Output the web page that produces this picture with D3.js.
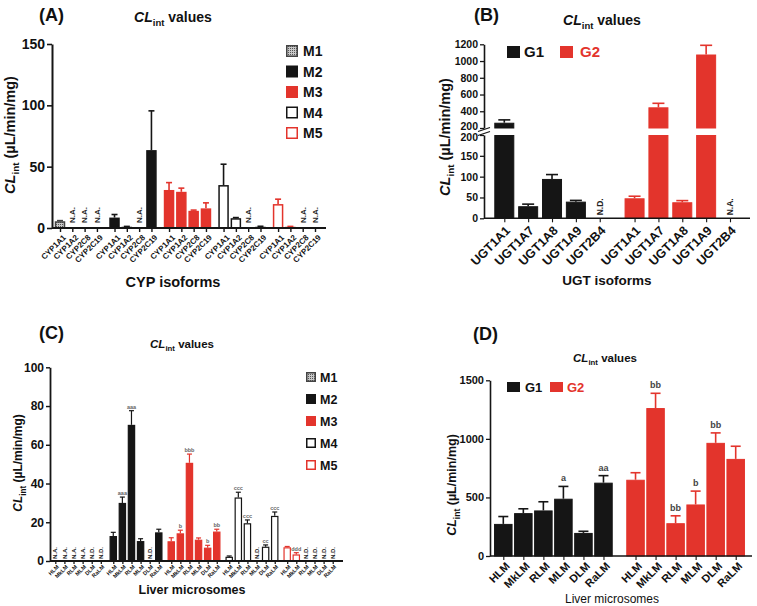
<!DOCTYPE html>
<html><head><meta charset="utf-8">
<script src="https://cdn.jsdelivr.net/npm/d3@7"></script>
<style>body{margin:0;background:#fff}svg{display:block;font-family:"Liberation Sans",Arial,sans-serif}</style>
</head><body><svg id="c" width="757" height="606"></svg>
<script>
// ---------- DATA ----------
// Panel A: CYP isoforms
const cypIsoforms = ["CYP1A1","CYP1A2","CYP2C8","CYP2C19"];
const cypM1 = [5.5, null, null, null];
const cypM1Err = [6, null, null, null];
const cypM1Note = ["", "N.A.", "N.A.", "N.A."];
const cypM2 = [8.5, 1, null, 63.5];
const cypM2Err = [11, 1.3, null, 95.5];
const cypM2Note = ["", "", "N.A.", ""];
const cypM3 = [31, 29.5, 14, 16];
const cypM3Err = [37, 32.5, 14.6, 20.5];
const cypM4 = [35, 8, null, 1];
const cypM4Err = [52, 8.5, null, 1.4];
const cypM4Note = ["", "", "N.A.", ""];
const cypM5 = [19.5, 1, null, null];
const cypM5Err = [23.5, 1.3, null, null];
const cypM5Note = ["", "", "N.A.", "N.A."];
const cypYTicks = [0, 50, 100, 150];

// Panel B: UGT isoforms
const ugtIsoforms = ["UGT1A1","UGT1A7","UGT1A8","UGT1A9","UGT2B4"];
const ugtG1 = [263, 29, 94.5, 40, null];
const ugtG1Err = [297, 34, 105, 43, null];
const ugtG1Note = ["", "", "", "", "N.D."];
const ugtG2 = [48, 447, 38.5, 1078, null];
const ugtG2Err = [53, 495, 42.5, 1188, null];
const ugtG2Note = ["", "", "", "", "N.A."];
const ugtLowTicks = [0, 50, 100, 150, 200];
const ugtHighTicks = [200, 400, 600, 800, 1000, 1200];

// Panel C: liver microsomes, metabolites
const microsomes = ["HLM","MkLM","RLM","MLM","DLM","RaLM"];
const lmM1 = [null, null, null, null, null, null];
const lmM1Note = ["N.A.","N.A.","N.A.","N.A.","N.D.","N.D."];
const lmM2 = [12.9, 30, 70.3, 10.3, null, 14.8];
const lmM2Err = [14.8, 33, 77.6, 11.5, null, 16.4];
const lmM2Note = ["", "", "", "", "N.D.", ""];
const lmM2Sig = ["", "aaa", "aaa", "", "", ""];
const lmM3 = [10.2, 14.3, 50.7, 11, 6.9, 15.2];
const lmM3Err = [12, 15.9, 55.2, 11.9, 8.1, 16.4];
const lmM3Sig = ["", "b", "bbb", "", "b", "bb"];
const lmM4 = [2.2, 32.8, 19.5, null, 7.4, 23.3];
const lmM4Err = [2.6, 35.5, 21.2, null, 8.3, 25.3];
const lmM4Note = ["", "", "", "N.D.", "", ""];
const lmM4Sig = ["", "ccc", "ccc", "", "cc", "ccc"];
const lmM5 = [7.1, 3.4, null, null, null, null];
const lmM5Err = [7.5, 4.3, null, null, null, null];
const lmM5Note = ["", "", "N.D.", "N.D.", "N.D.", "N.D."];
const lmM5Sig = ["", "ddd", "", "", "", ""];
const lmCTicks = [0, 20, 40, 60, 80, 100];

// Panel D: liver microsomes, G1 / G2
const lmG1 = [274, 366, 389, 489, 197, 626];
const lmG1Err = [337, 403, 463, 594, 211, 686];
const lmG1Sig = ["", "", "", "a", "", "aa"];
const lmG2 = [651, 1263, 280, 440, 966, 829];
const lmG2Err = [711, 1389, 343, 554, 1051, 937];
const lmG2Sig = ["", "bb", "bb", "b", "bb", ""];
const lmDTicks = [0, 500, 1000, 1500];

const metNames = ["M1","M2","M3","M4","M5"];
const grpNames = ["G1","G2"];

// ---------- STYLE ----------
const RED = "#e3342c", BLK = "#151515";
const STYLES = {
  M1:{fill:"url(#dots)", stroke:"#444"},
  M2:{fill:BLK, stroke:BLK},
  M3:{fill:RED, stroke:RED},
  M4:{fill:"#fff", stroke:BLK},
  M5:{fill:"#fff", stroke:RED},
  G1:{fill:BLK, stroke:BLK},
  G2:{fill:RED, stroke:RED}
};

const svg = d3.select("#c");
const defs = svg.append("defs");
const pat = defs.append("pattern").attr("id","dots").attr("patternUnits","userSpaceOnUse").attr("width",2).attr("height",2);
pat.append("rect").attr("width",2).attr("height",2).attr("fill","#c8c8c8");
pat.append("rect").attr("width",1).attr("height",1).attr("fill","#555");

function addCL(t, size, suffix, weight){
  t.append("tspan").attr("font-style","italic").attr("font-weight","bold").text("CL");
  t.append("tspan").attr("font-size",size*0.68).attr("dy",size*0.3).attr("font-weight","bold").text("int");
  t.append("tspan").attr("dy",-size*0.3).attr("font-weight",weight||"bold").text(suffix);
}
function chartTitle(x,y,size){
  const t = svg.append("text").attr("x",x).attr("y",y).attr("font-size",size).attr("text-anchor","middle").attr("fill","#111");
  addCL(t,size," values");
}
function yLabel(x,y,size){
  const t = svg.append("text").attr("transform",`translate(${x},${y}) rotate(-90)`).attr("font-size",size).attr("text-anchor","middle").attr("fill","#111");
  addCL(t,size," (µL/min/mg)");
}
function plainText(x,y,size,str,opt){
  opt = opt||{};
  return svg.append("text").attr("x",x).attr("y",y).attr("font-size",size)
    .attr("font-weight",opt.weight||"bold").attr("text-anchor",opt.anchor||"start")
    .attr("fill",opt.fill||"#111").text(str);
}

function drawPanel(c){
  const n = c.items.length;
  const lastSlot = (c.groups.length-1)*(n+c.gap) + n-1;
  const x = d3.scaleLinear().domain([0,lastSlot]).range([c.c0,c.c1]);
  const slots = [];
  c.groups.forEach((gr,gi)=>c.items.forEach((it,j)=>slots.push({
    slot: gi*(n+c.gap)+j, label: it, v: gr.values[j], e: gr.errs ? gr.errs[j] : null,
    note: gr.notes ? gr.notes[j] : "", sig: gr.sigs ? gr.sigs[j] : "", st: STYLES[gr.name]
  })));
  const g = svg.append("g");
  const sw = c.barStroke;
  slots.filter(s=>s.v!=null).forEach(s=>{
    const segs = c.segments ? c.segments(s.v) : [[c.y(s.v), c.y(0)]];
    segs.forEach(([t,b])=>{
      g.append("rect").attr("x",x(s.slot)-c.bw/2+sw/2).attr("width",c.bw-sw)
        .attr("y",t+sw/2).attr("height",Math.max(0,b-t-sw/2))
        .attr("fill",s.st.fill).attr("stroke",s.st.stroke).attr("stroke-width",sw);
    });
    if(s.e!=null){
      const cx = x(s.slot);
      g.append("line").attr("x1",cx).attr("x2",cx).attr("y1",c.y(s.v)).attr("y2",c.y(s.e))
        .attr("stroke",s.st.stroke).attr("stroke-width",c.errW);
      g.append("line").attr("x1",cx-c.cap/2).attr("x2",cx+c.cap/2).attr("y1",c.y(s.e)).attr("y2",c.y(s.e))
        .attr("stroke",s.st.stroke).attr("stroke-width",c.errW);
    }
  });
  slots.filter(s=>s.note).forEach(s=>{
    g.append("text").attr("transform",`translate(${x(s.slot)+c.noteSize*0.36},${c.y0-c.noteOff}) rotate(-90)`)
      .attr("font-size",c.noteSize).attr("font-weight","bold").attr("fill","#222").text(s.note);
  });
  slots.filter(s=>s.sig).forEach(s=>{
    g.append("text").attr("x",x(s.slot)).attr("y",c.y(s.e)-c.sigOff).attr("text-anchor","middle")
      .attr("font-size",c.sigSize).attr("font-weight","bold").attr("fill",c.sigFill).text(s.sig);
  });
  c.yAxes.forEach(ax=>{
    const a = g.append("g").attr("transform",`translate(${c.axisX},0)`)
      .call(d3.axisLeft(ax.scale).tickValues(ax.ticks).tickSize(c.tickLen).tickSizeOuter(0).tickPadding(c.tickPad).tickFormat(d3.format("d")));
    a.select(".domain").attr("stroke",BLK).attr("stroke-width",c.axisW);
    a.selectAll(".tick line").attr("stroke",BLK).attr("stroke-width",c.axisW*0.8);
    a.selectAll(".tick text").attr("font-size",c.yFont).attr("font-weight","bold").attr("fill","#111")
      .attr("font-family","'Liberation Sans',Arial,sans-serif");
    if(ax.shift) a.selectAll(".tick text").filter(d=>d===ax.shift[0]).attr("dy", ax.shift[1]);
  });
  const xa = g.append("g").attr("transform",`translate(0,${c.y0})`)
    .call(d3.axisBottom(x).tickValues(slots.map(s=>s.slot)).tickSize(c.xTickLen).tickFormat((d,i)=>slots[i].label));
  xa.select(".domain").remove();
  xa.append("line").attr("x1",c.axisX).attr("x2",c.xEnd).attr("stroke",BLK).attr("stroke-width",c.axisW);
  xa.selectAll(".tick line").attr("stroke",BLK).attr("stroke-width",c.axisW*0.7);
  xa.selectAll(".tick text").attr("font-size",c.xFont).attr("font-weight","bold").attr("fill","#111")
    .attr("font-family","'Liberation Sans',Arial,sans-serif")
    .attr("text-anchor","end").attr("x",0).attr("y",0).attr("dy","0.35em")
    .attr("transform",`translate(${c.xLab[0]},${c.xLab[1]}) rotate(-45)`);
  return g;
}

function vLegend(names,x,y0,step,w,h,lx,font){
  names.forEach((nm,i)=>{
    const cy = y0+i*step;
    const st = STYLES[nm];
    svg.append("rect").attr("x",x+0.75).attr("y",cy-h/2+0.75).attr("width",w-1.5).attr("height",h-1.5)
      .attr("fill",st.fill).attr("stroke",st.stroke).attr("stroke-width",1.5);
    plainText(lx,cy,font,nm).attr("dy","0.36em");
  });
}
function hLegend(names,xs,lxs,cy,w,h,font){
  names.forEach((nm,i)=>{
    const st = STYLES[nm];
    svg.append("rect").attr("x",xs[i]).attr("y",cy-h/2).attr("width",w).attr("height",h).attr("fill",st.fill);
    plainText(lxs[i],cy,font,nm,{fill: nm==="G2"?RED:"#111"}).attr("dy","0.36em");
  });
}

// ---------- PANEL A ----------
const yA = d3.scaleLinear().domain([0,150]).range([228,44]);
drawPanel({
  items: cypIsoforms,
  groups: [
    {name:"M1", values:cypM1, errs:cypM1Err, notes:cypM1Note},
    {name:"M2", values:cypM2, errs:cypM2Err, notes:cypM2Note},
    {name:"M3", values:cypM3, errs:cypM3Err},
    {name:"M4", values:cypM4, errs:cypM4Err, notes:cypM4Note},
    {name:"M5", values:cypM5, errs:cypM5Err, notes:cypM5Note}
  ],
  c0:60, c1:315, gap:0.43, bw:10.5, barStroke:1.5,
  y:yA, yAxes:[{scale:yA, ticks:cypYTicks}], y0:228, axisX:52, xEnd:326,
  tickLen:5, tickPad:2, yFont:14, axisW:2, xTickLen:4, xFont:8, xLab:[4,8],
  errW:1.6, cap:6, noteSize:8, noteOff:5, sigSize:6, sigOff:3, sigFill:"#555"
});
plainText(39,21,18,"(A)");
chartTitle(173,22,14);
yLabel(15,135,14.5);
plainText(173,287,14.5,"CYP isoforms",{anchor:"middle"});
vLegend(metNames,286,51,20.5,12,12,303,14);

// ---------- PANEL B ----------
const yBLow = d3.scaleLinear().domain([0,200]).range([218.3,135]);
const yBHigh = d3.scaleLinear().domain([200,1200]).range([128,44.3]);
const yB = v => v<=200 ? yBLow(v) : yBHigh(v);
drawPanel({
  items: ugtIsoforms,
  groups: [
    {name:"G1", values:ugtG1, errs:ugtG1Err, notes:ugtG1Note},
    {name:"G2", values:ugtG2, errs:ugtG2Err, notes:ugtG2Note}
  ],
  c0:504.3, c1:730, gap:0.46, bw:20, barStroke:1,
  y:yB, segments: v => v<=200 ? [[yBLow(v), yBLow(0)]] : [[yBLow(200), yBLow(0)], [yBHigh(v), yBHigh(200)]],
  yAxes:[{scale:yBLow, ticks:ugtLowTicks, shift:[200,"0.5em"]},{scale:yBHigh, ticks:ugtHighTicks, shift:[200,"0.1em"]}],
  y0:218.3, axisX:484, xEnd:750,
  tickLen:4, tickPad:2, yFont:10.5, axisW:1.6, xTickLen:4, xFont:12.5, xLab:[3,10],
  errW:1.6, cap:12, noteSize:8.5, noteOff:3, sigSize:8, sigOff:3, sigFill:"#444"
});
[129.5,133.5].forEach(yy=>svg.append("line").attr("x1",478).attr("x2",490).attr("y1",yy+2).attr("y2",yy-2).attr("stroke",BLK).attr("stroke-width",1.3));
plainText(474,21,18,"(B)");
chartTitle(602,25,14);
yLabel(450,137,14.5);
plainText(607,285,13.5,"UGT isoforms",{anchor:"middle"});
hLegend(grpNames,[507,560],[524,580],52,13,12,15);

// ---------- PANEL C ----------
const yC = d3.scaleLinear().domain([0,100]).range([561,367.3]);
drawPanel({
  items: microsomes,
  groups: [
    {name:"M1", values:lmM1, notes:lmM1Note},
    {name:"M2", values:lmM2, errs:lmM2Err, notes:lmM2Note, sigs:lmM2Sig},
    {name:"M3", values:lmM3, errs:lmM3Err, sigs:lmM3Sig},
    {name:"M4", values:lmM4, errs:lmM4Err, notes:lmM4Note, sigs:lmM4Sig},
    {name:"M5", values:lmM5, errs:lmM5Err, notes:lmM5Note, sigs:lmM5Sig}
  ],
  c0:55.3, c1:332.7, gap:0.37, bw:7.5, barStroke:1.2,
  y:yC, yAxes:[{scale:yC, ticks:lmCTicks}], y0:561, axisX:50, xEnd:343,
  tickLen:4, tickPad:2, yFont:12, axisW:1.8, xTickLen:3, xFont:5.5, xLab:[2,5],
  errW:1.2, cap:5, noteSize:6, noteOff:2, sigSize:5.5, sigOff:2, sigFill:"#666"
});
plainText(39,339,18,"(C)");
chartTitle(182,348,11.5);
yLabel(22,463,12);
plainText(192,594,12.5,"Liver microsomes",{anchor:"middle"});
vLegend(metNames,306,377,22,10,10,320,12.5);

// ---------- PANEL D ----------
const yD = d3.scaleLinear().domain([0,1500]).range([556,380.3]);
drawPanel({
  items: microsomes,
  groups: [
    {name:"G1", values:lmG1, errs:lmG1Err, sigs:lmG1Sig},
    {name:"G2", values:lmG2, errs:lmG2Err, sigs:lmG2Sig}
  ],
  c0:503.3, c1:735.7, gap:0.6, bw:18.5, barStroke:1,
  y:yD, yAxes:[{scale:yD, ticks:lmDTicks}], y0:556, axisX:490, xEnd:752,
  tickLen:4, tickPad:2, yFont:11, axisW:1.6, xTickLen:4, xFont:11, xLab:[4,8],
  errW:1.6, cap:10, noteSize:8, noteOff:3, sigSize:9, sigOff:5, sigFill:"#444"
});
plainText(473,340,18,"(D)");
chartTitle(605,362,11.5);
yLabel(456,485,12.5);
plainText(612,603,12,"Liver microsomes",{anchor:"middle",weight:"normal"});
hLegend(grpNames,[507,550],[525,567],387,13,10,13);
</script></body></html>
